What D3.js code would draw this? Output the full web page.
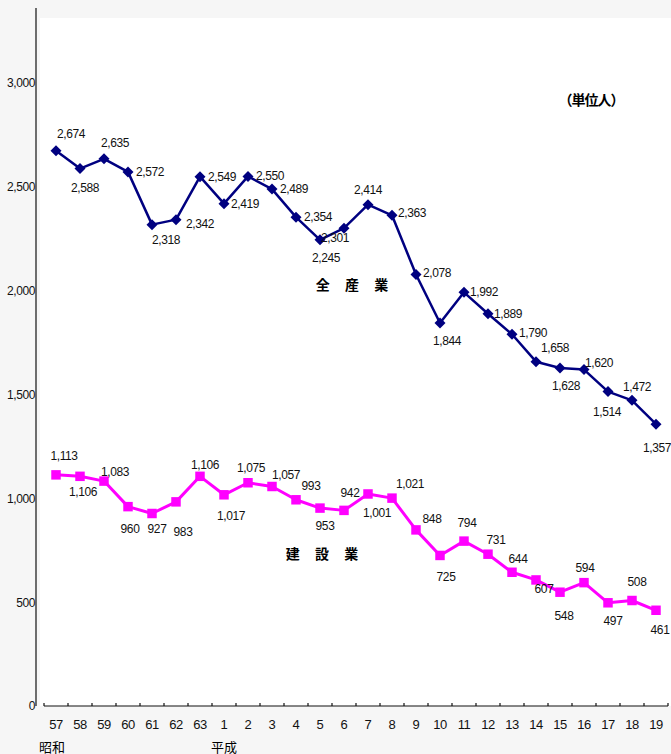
<!DOCTYPE html>
<html>
<head>
<meta charset="utf-8">
<script src="https://cdn.jsdelivr.net/npm/d3@7"></script>
<style>
  html, body { margin: 0; padding: 0; background: #f6f6f6; }
  svg { display: block; }
  .num { font-family: "Liberation Sans", Arial, sans-serif; font-size: 12px; fill: #111; letter-spacing: -0.4px; }
  .jp { font-family: "Noto Sans CJK JP", sans-serif; fill: #000; }
</style>
</head>
<body>
<svg id="chart" width="671" height="754"></svg>
<script>
// Fiscal years: Showa 57-63, then Heisei 1-19
const years = ["57","58","59","60","61","62","63","1","2","3","4","5","6","7","8","9","10","11","12","13","14","15","16","17","18","19"];

// All industries (persons)
const allIndustries = [2674, 2588, 2635, 2572, 2318, 2342, 2549, 2419, 2550, 2489, 2354, 2245, 2301, 2414, 2363, 2078, 1844, 1992, 1889, 1790, 1658, 1628, 1620, 1514, 1472, 1357];

// Construction industry (persons)
const construction = [1113, 1106, 1083, 960, 927, 983, 1106, 1017, 1075, 1057, 993, 953, 942, 1021, 1001, 848, 725, 794, 731, 644, 607, 548, 594, 497, 508, 461];

const yTicks = [0, 500, 1000, 1500, 2000, 2500, 3000];

// Value-label offsets from each marker (layout only)
const allLabelOffsets = [[15,-17],[5,19],[11,-16],[22,0],[14,15],[24,4],[22,0],[21,0],[22,0],[22,0],[22,0],[6,18],[-9,10],[0,-15],[20,-2],[21,-1],[7,18],[20,0],[20,0],[21,-1],[19,-14],[6,18],[15,-7],[-1,20],[5,-13],[1,24]];
const conLabelOffsets = [[8,-19],[3,16],[11,-9],[2,22],[5,16],[7,30],[5,-11],[7,21],[3,-15],[14,-11],[15,-14],[5,18],[6,-17],[42,-10],[-15,15],[16,-11],[6,22],[3,-18],[8,-14],[6,-13],[8,9],[4,24],[1,-15],[5,18],[5,-19],[4,20]];

const svg = d3.select("#chart");
const W = 671, H = 754;

// plot area background
svg.append("rect").attr("x", 40).attr("y", 18).attr("width", W - 40).attr("height", 688).attr("fill", "#ffffff");

const x = d3.scaleBand().domain(years).range([44, 668]).paddingInner(0).paddingOuter(0);
const y = d3.scaleLinear().domain([0, 3000]).range([706, 83]);
const cx = d => x(d) + x.bandwidth() / 2;

const fmt = d3.format(",");

// Y axis: vertical line running up past the top tick, labels without tick marks
const yAxis = svg.append("g").attr("transform", "translate(36,0)")
  .call(d3.axisLeft(y).tickValues(yTicks).tickSize(0).tickPadding(1).tickFormat(fmt));
yAxis.select(".domain").remove();
yAxis.selectAll("text").attr("class", "num").attr("font-size", null).attr("font-family", null).attr("fill", null);
svg.append("line").attr("x1", 36).attr("x2", 36).attr("y1", 8).attr("y2", y(0))
  .attr("stroke", "#222").attr("stroke-width", 1.3);

// X axis: baseline with small upward ticks on category boundaries
svg.append("line").attr("x1", 44).attr("x2", 668).attr("y1", y(0)).attr("y2", y(0))
  .attr("stroke", "#111").attr("stroke-width", 1.2);
const bounds = years.map(d => x(d)).concat([x(years[years.length - 1]) + x.bandwidth()]);
svg.append("g").selectAll("line").data(bounds).join("line")
  .attr("x1", d => d).attr("x2", d => d).attr("y1", y(0)).attr("y2", y(0) - 3)
  .attr("stroke", "#111").attr("stroke-width", 1.2);

const xAxis = svg.append("g").attr("transform", `translate(0,${y(0)})`)
  .call(d3.axisBottom(x).tickSize(0).tickPadding(14));
xAxis.select(".domain").remove();
xAxis.selectAll("text").attr("class", "num").attr("font-size", null).attr("font-family", null).attr("fill", null)
  .style("font-size", "13px");

// era names under the year labels
svg.append("text").attr("class", "jp").attr("x", cx("57") - 4).attr("y", 746)
  .attr("text-anchor", "middle").attr("dominant-baseline", "central").style("font-size", "13px").text("昭和");
svg.append("text").attr("class", "jp").attr("x", cx("1")).attr("y", 746)
  .attr("text-anchor", "middle").attr("dominant-baseline", "central").style("font-size", "13px").text("平成");

// rotated-square marker
const diamond = {
  draw(ctx, size) {
    const r = Math.sqrt(size) / 2;
    ctx.moveTo(0, -r); ctx.lineTo(r, 0); ctx.lineTo(0, r); ctx.lineTo(-r, 0); ctx.closePath();
  }
};

function drawSeries(values, color, width, symbolType, symbolSize, offsets) {
  const data = years.map((yr, i) => ({ yr, v: values[i], off: offsets[i] }));
  const line = d3.line().x(d => cx(d.yr)).y(d => y(d.v));
  const g = svg.append("g");
  g.append("path").datum(data).attr("d", line).attr("fill", "none")
    .attr("stroke", color).attr("stroke-width", width).attr("stroke-linejoin", "round");
  g.selectAll("path.m").data(data).join("path").attr("class", "m")
    .attr("transform", d => `translate(${cx(d.yr)},${y(d.v)})`)
    .attr("d", d3.symbol().type(symbolType).size(symbolSize)).attr("fill", color);
  g.selectAll("text").data(data).join("text").attr("class", "num")
    .attr("x", d => cx(d.yr) + d.off[0]).attr("y", d => y(d.v) + d.off[1])
    .attr("text-anchor", "middle").attr("dominant-baseline", "central")
    .text(d => fmt(d.v));
}

drawSeries(allIndustries, "#000080", 2.5, diamond, 121, allLabelOffsets);
drawSeries(construction, "#ff00ff", 3, d3.symbolSquare, 90, conLabelOffsets);

// series names and unit
svg.append("text").attr("class", "jp").attr("x", 355).attr("y", 284).attr("text-anchor", "middle")
  .attr("dominant-baseline", "central").style("font-size", "14px").style("font-weight", "bold")
  .style("letter-spacing", "6px").text("全 産 業");
svg.append("text").attr("class", "jp").attr("x", 325).attr("y", 553).attr("text-anchor", "middle")
  .attr("dominant-baseline", "central").style("font-size", "14px").style("font-weight", "bold")
  .style("letter-spacing", "6px").text("建 設 業");
svg.append("text").attr("class", "jp").attr("x", 591).attr("y", 99).attr("text-anchor", "middle")
  .attr("dominant-baseline", "central").style("font-size", "14px").style("font-weight", "bold")
  .style("letter-spacing", "-1px").text("（単位人）");
</script>
</body>
</html>
